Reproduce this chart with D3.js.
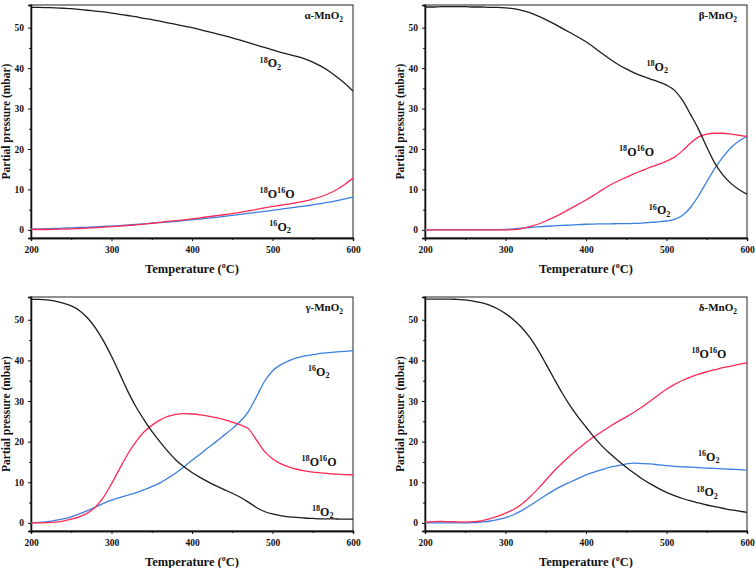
<!DOCTYPE html>
<html><head><meta charset="utf-8">
<script src="https://cdn.jsdelivr.net/npm/d3@7/dist/d3.min.js"></script>
<style>
body{margin:0;background:#fff;}
svg text{font-family:"Liberation Serif","Times New Roman",serif;font-weight:bold;fill:#111;}
</style></head><body>
<svg id="c" width="756" height="568"></svg>
<script>
const temps = [200,210,220,230,240,250,260,270,280,290,300,310,320,330,340,350,360,370,380,390,400,410,420,430,440,450,460,470,480,490,500,510,520,530,540,550,560,570,580,590,600];
const xTicks = [200,300,400,500,600];
const xMinor = [250,350,450,550];
const yTicks = [0,10,20,30,40,50];
const yMinor = [5,15,25,35,45];
const panelNames = ["α","β","γ","δ"];

const alpha18 = [55.0,55.0,54.95,54.9,54.8,54.7,54.5,54.3,54.1,53.9,53.6,53.3,53.0,52.7,52.3,52.0,51.6,51.2,50.8,50.4,50.0,49.5,49.0,48.5,48.0,47.5,46.9,46.3,45.7,45.1,44.5,43.9,43.4,42.9,42.3,41.5,40.5,39.3,37.8,36.2,34.3];
const alpha1816 = [0.1,0.1,0.1,0.15,0.2,0.25,0.35,0.45,0.55,0.7,0.8,0.95,1.1,1.25,1.45,1.65,1.85,2.1,2.3,2.5,2.75,3.0,3.25,3.5,3.75,4.05,4.35,4.7,5.05,5.45,5.8,6.1,6.4,6.75,7.1,7.6,8.2,9.0,10.0,11.3,12.8];
const alpha16 = [0.2,0.25,0.3,0.35,0.45,0.5,0.6,0.65,0.75,0.85,0.95,1.05,1.2,1.35,1.5,1.65,1.8,1.95,2.1,2.3,2.5,2.7,2.9,3.1,3.35,3.6,3.85,4.1,4.35,4.6,4.85,5.1,5.4,5.65,5.9,6.2,6.5,6.85,7.25,7.65,8.1];

const beta18 = [55.1,55.1,55.2,55.2,55.2,55.2,55.1,55.1,55.0,55.0,54.9,54.7,54.3,53.7,52.9,52.0,51.0,49.9,48.8,47.7,46.5,45.1,43.6,42.2,40.9,39.8,38.8,38.0,37.3,36.6,35.8,34.5,32.0,28.5,24.8,20.5,16.5,13.6,11.5,10.0,8.8];
const beta1816 = [0,0,0,0,0,0,0,0,0,0,0,0.05,0.3,0.8,1.4,2.2,3.1,4.1,5.2,6.3,7.4,8.6,9.9,11.1,12.1,13.0,13.9,14.7,15.5,16.2,17.0,18.0,19.6,21.5,23.0,23.7,23.9,23.9,23.7,23.4,23.1];
const beta16 = [0,0,0,0,0,0,0,0,0,0.05,0.1,0.25,0.45,0.6,0.75,0.9,1.0,1.1,1.2,1.3,1.4,1.45,1.5,1.5,1.55,1.55,1.6,1.7,1.85,2.0,2.2,2.6,3.6,5.6,8.5,11.9,15.2,18.0,20.3,22.0,23.1];

const gamma18 = [55.0,55.0,54.9,54.6,54.1,53.4,52.3,50.5,48.0,44.8,41.0,36.8,32.5,28.7,25.5,22.6,20.0,17.6,15.5,13.8,12.4,11.2,10.1,9.1,8.2,7.3,6.3,5.1,3.8,2.8,2.2,1.8,1.5,1.35,1.2,1.1,1.0,1.0,0.95,0.9,0.9];
const gamma1816 = [0,0,0.05,0.2,0.45,0.9,1.5,2.4,3.9,6.3,9.6,13.3,16.9,19.9,22.3,24.0,25.3,26.2,26.7,26.9,26.8,26.6,26.3,25.9,25.4,24.8,24.1,23.2,20.4,17.6,15.8,14.6,13.8,13.2,12.8,12.5,12.3,12.1,12.0,11.9,11.8];
const gamma16 = [0,0.1,0.3,0.6,1.0,1.5,2.2,3.0,3.9,4.8,5.6,6.2,6.8,7.4,8.1,8.9,9.8,11.0,12.3,13.8,15.4,16.9,18.5,20.0,21.6,23.2,25.0,27.4,31.0,34.8,37.4,38.9,39.9,40.6,41.1,41.4,41.7,41.9,42.1,42.2,42.4];

const delta18 = [55.1,55.1,55.1,55.1,55.0,54.9,54.6,54.2,53.6,52.7,51.5,50.0,48.1,45.7,42.7,39.2,35.6,32.1,28.9,26.1,23.6,21.1,18.9,17.0,15.3,13.7,12.2,10.8,9.6,8.5,7.5,6.7,6.0,5.4,4.9,4.4,4.0,3.6,3.2,2.9,2.6];
const delta1816 = [0.2,0.3,0.35,0.3,0.25,0.2,0.3,0.5,1.0,1.6,2.4,3.3,4.6,6.3,8.3,10.5,12.7,14.7,16.5,18.2,19.8,21.2,22.5,23.8,25.0,26.1,27.3,28.6,30.0,31.5,32.9,34.1,35.1,35.9,36.6,37.2,37.7,38.2,38.6,39.0,39.4];
const delta16 = [0,0,0,0,0,0,0.05,0.2,0.4,0.8,1.3,2.0,3.0,4.2,5.5,6.8,8.0,9.1,10.0,10.9,11.8,12.5,13.1,13.7,14.1,14.5,14.7,14.6,14.5,14.3,14.1,13.9,13.8,13.7,13.6,13.5,13.4,13.3,13.2,13.1,13.0];

// label anchors in data coordinates [temperature, pressure]
const labels = [
  [{t:"18O2",x:484,y:40.2},{t:"18O16O",x:484,y:7.9},{t:"16O2",x:496,y:-0.2}],
  [{t:"18O2",x:475,y:39.4},{t:"18O16O",x:441,y:18.3},{t:"16O2",x:478,y:3.9}],
  [{t:"16O2",x:544,y:36.2},{t:"18O16O",x:536,y:14.1},{t:"18O2",x:549,y:1.8}],
  [{t:"18O16O",x:531,y:40.6},{t:"16O2",x:539,y:15.3},{t:"18O2",x:537,y:6.5}]
];

const series = [
  [alpha18, alpha1816, alpha16],
  [beta18, beta1816, beta16],
  [gamma18, gamma1816, gamma16],
  [delta18, delta1816, delta16]
];
const colors = ["#1c1c1c","#ff2a55","#3b7fe0"];

const svg = d3.select("#c");
svg.append("rect").attr("width",756).attr("height",568).attr("fill","#fff");

const boxes = [
  {l:31,r:353,t:5,b:238},
  {l:425,r:747,t:5,b:238},
  {l:31,r:353,t:297,b:531},
  {l:425,r:747,t:297,b:531}
];

function labelText(sel, t, size){
  let parts;
  if (t==="18O2") parts=[["18","sup"],["O",""],["2","sub"]];
  else if (t==="16O2") parts=[["16","sup"],["O",""],["2","sub"]];
  else parts=[["18","sup"],["O",""],["16","sup"],["O",""]];
  let cur=0;
  parts.forEach(p=>{
    const ts = sel.append("tspan").text(p[0]);
    const target = p[1]==="sup"? -size*0.38 : p[1]==="sub"? size*0.2 : 0;
    ts.attr("font-size", p[1]? size*0.68 : size).attr("dy", target-cur);
    cur=target;
  });
}

boxes.forEach((bx,i)=>{
  const g = svg.append("g");
  const x = d3.scaleLinear().domain([200,600]).range([bx.l,bx.r]);
  const y = d3.scaleLinear().domain([-2,55.6]).range([bx.b,bx.t]);

  g.append("rect").attr("x",bx.l).attr("y",bx.t).attr("width",bx.r-bx.l).attr("height",bx.b-bx.t)
    .attr("fill","none").attr("stroke","#222").attr("stroke-width",1);

  const ax = g.append("g").attr("transform",`translate(0,${bx.b})`)
    .call(d3.axisBottom(x).tickValues(xTicks).tickSize(3).tickPadding(5).tickFormat(d3.format("d")));
  ax.append("g").call(d3.axisBottom(x).tickValues(xMinor).tickSize(2).tickFormat(""));
  const ay = g.append("g").attr("transform",`translate(${bx.l},0)`)
    .call(d3.axisLeft(y).tickValues(yTicks).tickSize(3).tickPadding(4).tickFormat(d3.format("d")));
  ay.append("g").call(d3.axisLeft(y).tickValues(yMinor).tickSize(2).tickFormat(""));
  g.selectAll(".domain").attr("stroke","#111").attr("stroke-width",1.3);
  g.selectAll(".tick line").attr("stroke","#111").attr("stroke-width",1);
  g.selectAll(".tick text").attr("font-size",9.5).attr("font-family","Liberation Serif").attr("font-weight","bold").attr("fill","#111");

  const xt = g.append("text").attr("x",(bx.l+bx.r)/2).attr("y",bx.b+35).attr("text-anchor","middle").attr("font-size",12.5);
  xt.append("tspan").text("Temperature (");
  xt.append("tspan").text("o").attr("font-size",8).attr("dy",-5);
  xt.append("tspan").text("C)").attr("dy",5);
  g.append("text").attr("transform",`translate(${bx.l-21},${(bx.t+bx.b)/2}) rotate(-90)`)
    .attr("text-anchor","middle").attr("font-size",11.5).text("Partial pressure (mbar)");

  const pl = g.append("text").attr("x",bx.r-10).attr("y",bx.t+14).attr("text-anchor","end").attr("font-size",11);
  pl.append("tspan").text(panelNames[i]+"-MnO");
  pl.append("tspan").text("2").attr("font-size",7.5).attr("dy",3);

  const line = d3.line().x((d,k)=>x(temps[k])).y(d=>y(d)).curve(d3.curveMonotoneX);
  [2,1,0].forEach(s=>{
    g.append("path").datum(series[i][s]).attr("d",line).attr("fill","none")
      .attr("stroke",colors[s]).attr("stroke-width",1.3);
  });

  labels[i].forEach(lb=>{
    const t = g.append("text").attr("x",x(lb.x)).attr("y",y(lb.y));
    labelText(t, lb.t, 12);
  });
});
</script>
</body></html>
